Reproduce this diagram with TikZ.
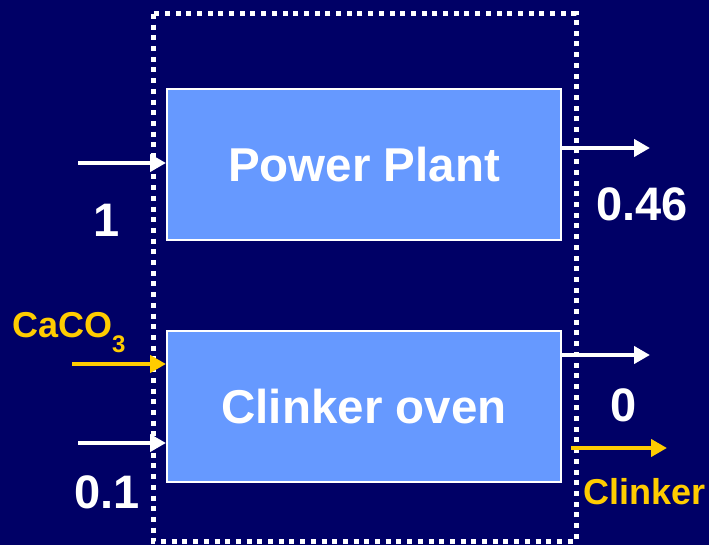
\documentclass[tikz,border=0pt]{standalone}
\usepackage{fontspec}
\setmainfont{Liberation Sans}
\usetikzlibrary{arrows.meta,calc}
\definecolor{bg}{HTML}{000066}
\definecolor{boxblue}{HTML}{6699FF}
\definecolor{gold}{HTML}{FFCC00}
\begin{document}
\begin{tikzpicture}[x=1pt,y=-1pt,
  proc/.style={draw=white, line width=2pt, fill=boxblue, minimum width=394pt, minimum height=151pt, inner sep=0pt, font=\fontsize{47.5}{50}\selectfont\bfseries, text=white},
  flow/.style={draw=white, line width=4.5pt, -{Triangle[length=16pt,width=17pt]}},
  yflow/.style={flow, draw=gold},
  num/.style={text=white, font=\fontsize{47}{50}\selectfont\bfseries, inner sep=0pt},
  ylab/.style={text=gold, font=\fontsize{36}{40}\selectfont\bfseries, inner sep=0pt},
  border/.style={draw=white, line width=5pt, dash pattern=on 5pt off 5.7pt}]
\fill[bg] (0,0) rectangle (709,545);
\useasboundingbox (0,0) rectangle (709,545);
\draw[border] (153,14) rectangle (576,541);
\node[proc] (pp) at (364,164.5) {Power Plant};
\node[proc] (co) at (364,406.5) {Clinker oven};
% left inputs
\coordinate (in1) at (78,163);
\coordinate (in2) at (72,364);
\coordinate (in3) at (78,443);
\draw[flow] (in1) -- (in1 -| pp.west);
\draw[yflow] (in2) -- (in2 -| co.west);
\draw[flow] (in3) -- (in3 -| co.west);
% right outputs
\coordinate (out1) at (650,148);
\coordinate (out2) at (650,355);
\coordinate (y1) at (571,448);
\coordinate (y2) at (667,448);
\draw[flow] (out1 -| pp.east) -- (out1);
\draw[flow] (out2 -| co.east) -- (out2);
\draw[yflow] (y1) -- (y2);
% labels
\node[num] (l1) at (107,220) {1};
\node[num] (l2) at (107,492) {0.1};
\node[num] (l3) at (642,204) {0.46};
\node[num] (l4) at (624,405) {0};
\node[ylab, anchor=base west] (l5) at (12,337) {CaCO\raisebox{-15pt}{\fontsize{24}{24}\selectfont 3}};
\node[ylab, anchor=base west] (l6) at (583,504) {Clinker};
\end{tikzpicture}
\end{document}
